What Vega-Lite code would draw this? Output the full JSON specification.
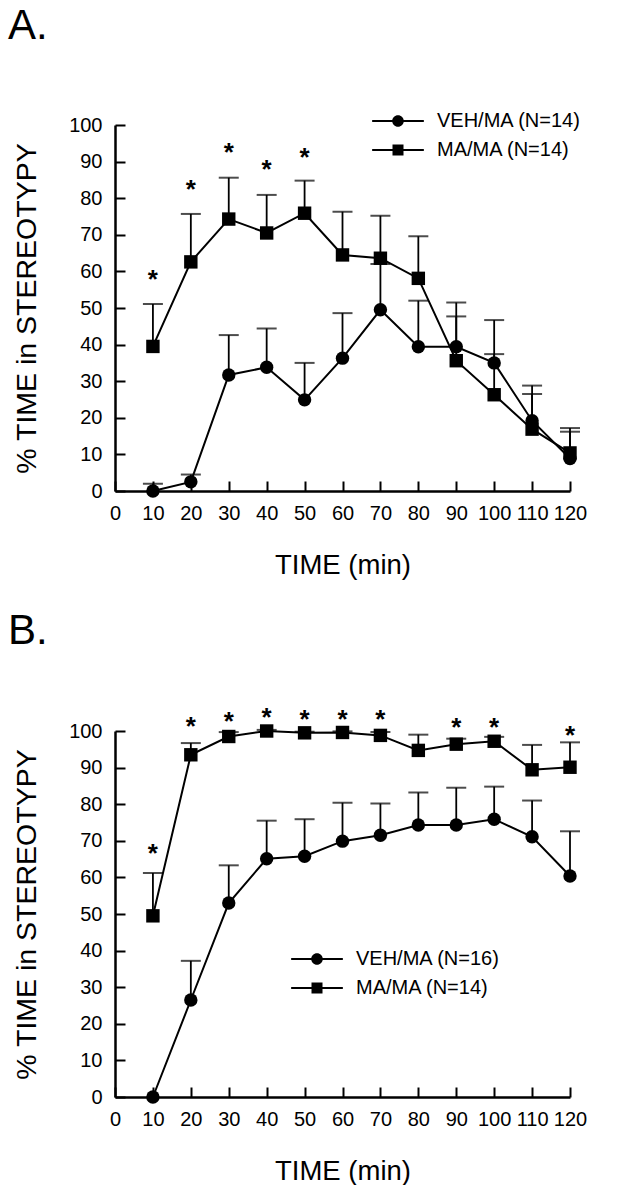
{
  "$schema": "https://vega.github.io/schema/vega-lite/v6.json",
  "padding": {"left": 8, "top": 5, "right": 5, "bottom": 0},
  "background": "white",
  "datasets": {
    "A": [
      {"time": 10, "group": "VEH/MA (N=14)", "mean": 0, "upper": 2},
      {"time": 20, "group": "VEH/MA (N=14)", "mean": 2.5, "upper": 4.5},
      {"time": 30, "group": "VEH/MA (N=14)", "mean": 31.7, "upper": 42.6},
      {"time": 40, "group": "VEH/MA (N=14)", "mean": 33.8, "upper": 44.4},
      {"time": 50, "group": "VEH/MA (N=14)", "mean": 24.9, "upper": 35},
      {"time": 60, "group": "VEH/MA (N=14)", "mean": 36.3, "upper": 48.6},
      {"time": 70, "group": "VEH/MA (N=14)", "mean": 49.5, "upper": 62},
      {"time": 80, "group": "VEH/MA (N=14)", "mean": 39.4, "upper": 52},
      {"time": 90, "group": "VEH/MA (N=14)", "mean": 39.4, "upper": 51.5},
      {"time": 100, "group": "VEH/MA (N=14)", "mean": 35, "upper": 46.7},
      {"time": 110, "group": "VEH/MA (N=14)", "mean": 19.2, "upper": 28.8},
      {"time": 120, "group": "VEH/MA (N=14)", "mean": 8.9, "upper": 17.2},
      {"time": 10, "group": "MA/MA (N=14)", "mean": 39.5, "upper": 51.1},
      {"time": 20, "group": "MA/MA (N=14)", "mean": 62.6, "upper": 75.7},
      {"time": 30, "group": "MA/MA (N=14)", "mean": 74.3, "upper": 85.6},
      {"time": 40, "group": "MA/MA (N=14)", "mean": 70.5, "upper": 80.9},
      {"time": 50, "group": "MA/MA (N=14)", "mean": 75.9, "upper": 84.8},
      {"time": 60, "group": "MA/MA (N=14)", "mean": 64.5, "upper": 76.3},
      {"time": 70, "group": "MA/MA (N=14)", "mean": 63.6, "upper": 75.2},
      {"time": 80, "group": "MA/MA (N=14)", "mean": 58.1, "upper": 69.6},
      {"time": 90, "group": "MA/MA (N=14)", "mean": 35.6, "upper": 47.7},
      {"time": 100, "group": "MA/MA (N=14)", "mean": 26.3, "upper": 37.4},
      {"time": 110, "group": "MA/MA (N=14)", "mean": 16.9, "upper": 26.5},
      {"time": 120, "group": "MA/MA (N=14)", "mean": 10.4, "upper": 16.2}
    ],
    "starsA": [
      {"time": 10, "star": 58.7},
      {"time": 20, "star": 83.4},
      {"time": 30, "star": 93.4},
      {"time": 40, "star": 88.7},
      {"time": 50, "star": 92}
    ],
    "B": [
      {"time": 10, "group": "VEH/MA (N=16)", "mean": 0, "upper": null},
      {"time": 20, "group": "VEH/MA (N=16)", "mean": 26.5, "upper": 37.2},
      {"time": 30, "group": "VEH/MA (N=16)", "mean": 53, "upper": 63.3},
      {"time": 40, "group": "VEH/MA (N=16)", "mean": 65.1, "upper": 75.5},
      {"time": 50, "group": "VEH/MA (N=16)", "mean": 65.8, "upper": 75.9},
      {"time": 60, "group": "VEH/MA (N=16)", "mean": 69.9, "upper": 80.4},
      {"time": 70, "group": "VEH/MA (N=16)", "mean": 71.5, "upper": 80.2},
      {"time": 80, "group": "VEH/MA (N=16)", "mean": 74.3, "upper": 83.2},
      {"time": 90, "group": "VEH/MA (N=16)", "mean": 74.3, "upper": 84.5},
      {"time": 100, "group": "VEH/MA (N=16)", "mean": 75.9, "upper": 84.8},
      {"time": 110, "group": "VEH/MA (N=16)", "mean": 71.1, "upper": 81},
      {"time": 120, "group": "VEH/MA (N=16)", "mean": 60.4, "upper": 72.6},
      {"time": 10, "group": "MA/MA (N=14)", "mean": 49.5, "upper": 61.2},
      {"time": 20, "group": "MA/MA (N=14)", "mean": 93.5, "upper": 96.7},
      {"time": 30, "group": "MA/MA (N=14)", "mean": 98.5, "upper": 99.7},
      {"time": 40, "group": "MA/MA (N=14)", "mean": 100, "upper": 100.3},
      {"time": 50, "group": "MA/MA (N=14)", "mean": 99.5, "upper": 99.8},
      {"time": 60, "group": "MA/MA (N=14)", "mean": 99.6, "upper": 99.9},
      {"time": 70, "group": "MA/MA (N=14)", "mean": 98.8, "upper": 99.7},
      {"time": 80, "group": "MA/MA (N=14)", "mean": 94.7, "upper": 99},
      {"time": 90, "group": "MA/MA (N=14)", "mean": 96.4, "upper": 97.9},
      {"time": 100, "group": "MA/MA (N=14)", "mean": 97.2, "upper": 98.4},
      {"time": 110, "group": "MA/MA (N=14)", "mean": 89.4, "upper": 96.2},
      {"time": 120, "group": "MA/MA (N=14)", "mean": 90.1, "upper": 96.9}
    ],
    "starsB": [
      {"time": 10, "star": 68.4},
      {"time": 20, "star": 103},
      {"time": 30, "star": 104.4},
      {"time": 40, "star": 105.5},
      {"time": 50, "star": 105},
      {"time": 60, "star": 105},
      {"time": 70, "star": 105},
      {"time": 90, "star": 102.7},
      {"time": 100, "star": 102.7},
      {"time": 120, "star": 100.5}
    ]
  },
  "config": {
    "font": "Liberation Sans",
    "view": {"stroke": null},
    "legend": {
      "labelFont": "Liberation Sans",
      "labelFontSize": 20,
      "labelColor": "black",
      "symbolSize": 121,
      "symbolStrokeWidth": 0,
      "padding": 0,
      "rowPadding": 9,
      "labelOffset": 29,
      "orient": "none"
    },
    "title": {
      "anchor": "start",
      "frame": "group",
      "dx": -107,
      "fontSize": 42,
      "fontWeight": "normal",
      "font": "Liberation Sans",
      "color": "black"
    }
  },
  "resolve": {"scale": {"shape": "independent"}, "legend": {"shape": "independent"}},
  "spacing": 30,
  "vconcat": [
    {
      "title": {"text": "A.", "offset": 63},
      "width": 455,
      "height": 366,
      "encoding": {
        "x": {"field": "time", "type": "quantitative", "scale": {"domain": [0, 120], "nice": false},
          "axis": {"values": [0,10,20,30,40,50,60,70,80,90,100,110,120], "title": "TIME (min)",
            "domainColor": "black", "domainWidth": 2.5, "tickColor": "black", "tickWidth": 2, "tickSize": -10,
            "labelColor": "black", "labelFont": "Liberation Sans", "labelFontSize": 20, "labelPadding": 22,
            "labelOverlap": false, "labelFlush": false, "grid": false,
            "titleFont": "Liberation Sans", "titleFontSize": 27.5, "titleFontWeight": "normal", "titleColor": "black", "titlePadding": 28}},
        "y": {"field": "mean", "type": "quantitative", "scale": {"domain": [0, 100], "nice": false},
          "axis": {"values": [0,10,20,30,40,50,60,70,80,90,100], "title": "% TIME in STEREOTYPY",
            "domainColor": "black", "domainWidth": 2.5, "tickColor": "black", "tickWidth": 2, "tickSize": -10,
            "labelColor": "black", "labelFont": "Liberation Sans", "labelFontSize": 20, "labelPadding": 23,
            "labelOverlap": false, "labelFlush": false, "grid": false,
            "titleFont": "Liberation Sans", "titleFontSize": 28.5, "titleFontWeight": "normal", "titleColor": "black", "titlePadding": 27}}
      },
      "resolve": {"scale": {"shape": "independent"}, "legend": {"shape": "independent"}},
      "layer": [
        {
          "data": {"name": "A"},
          "mark": {"type": "rule", "color": "black", "strokeWidth": 1.8},
          "encoding": {"y2": {"field": "upper"}}
        },
        {
          "data": {"name": "A"},
          "mark": {"type": "tick", "orient": "horizontal", "color": "black", "size": 20, "thickness": 2},
          "encoding": {"y": {"field": "upper", "type": "quantitative"}}
        },
        {
          "data": {"name": "A"},
          "mark": {"type": "line", "color": "black", "strokeWidth": 2},
          "encoding": {"detail": {"field": "group"}}
        },
        {
          "data": {"name": "A"},
          "mark": {"type": "point", "filled": true, "color": "black", "opacity": 1, "size": 180},
          "encoding": {
            "shape": {"field": "group", "type": "nominal",
              "scale": {"domain": ["VEH/MA (N=14)", "MA/MA (N=14)"], "range": ["circle", "square"]},
              "legend": null}
          }
        },
        {
          "data": {"name": "A"},
          "transform": [{"filter": "false"}],
          "mark": {"type": "point", "filled": true, "color": "black", "opacity": 1, "size": 121},
          "encoding": {
            "shape": {"field": "group", "type": "nominal",
              "scale": {"domain": ["VEH/MA (N=14)", "MA/MA (N=14)"],
                "range": ["M-4.7,-0.18H-0.98V0.18H-4.7ZM0.98,-0.18H4.7V0.18H0.98ZM1.05,0A1.05,1.05,0,1,1,-1.05,0A1.05,1.05,0,1,1,1.05,0Z",
                          "M-4.7,-0.18H-0.98V0.18H-4.7ZM0.98,-0.18H4.7V0.18H0.98ZM-1,-1H1V1H-1Z"]},
              "legend": {"title": null, "legendX": 273, "legendY": -14, "symbolFillColor": "black"}}
          }
        },
        {
          "data": {"name": "starsA"},
          "mark": {"type": "text", "text": "*", "fontSize": 26, "fontWeight": "bold", "color": "black", "baseline": "alphabetic", "dy": 12},
          "encoding": {"y": {"field": "star", "type": "quantitative"}}
        }
      ]
    },
    {
      "title": {"text": "B.", "offset": 52},
      "width": 455,
      "height": 366,
      "encoding": {
        "x": {"field": "time", "type": "quantitative", "scale": {"domain": [0, 120], "nice": false},
          "axis": {"values": [0,10,20,30,40,50,60,70,80,90,100,110,120], "title": "TIME (min)",
            "domainColor": "black", "domainWidth": 2.5, "tickColor": "black", "tickWidth": 2, "tickSize": -10,
            "labelColor": "black", "labelFont": "Liberation Sans", "labelFontSize": 20, "labelPadding": 22,
            "labelOverlap": false, "labelFlush": false, "grid": false,
            "titleFont": "Liberation Sans", "titleFontSize": 27.5, "titleFontWeight": "normal", "titleColor": "black", "titlePadding": 28}},
        "y": {"field": "mean", "type": "quantitative", "scale": {"domain": [0, 100], "nice": false},
          "axis": {"values": [0,10,20,30,40,50,60,70,80,90,100], "title": "% TIME in STEREOTYPY",
            "domainColor": "black", "domainWidth": 2.5, "tickColor": "black", "tickWidth": 2, "tickSize": -10,
            "labelColor": "black", "labelFont": "Liberation Sans", "labelFontSize": 20, "labelPadding": 23,
            "labelOverlap": false, "labelFlush": false, "grid": false,
            "titleFont": "Liberation Sans", "titleFontSize": 28.5, "titleFontWeight": "normal", "titleColor": "black", "titlePadding": 27}}
      },
      "resolve": {"scale": {"shape": "independent"}, "legend": {"shape": "independent"}},
      "layer": [
        {
          "data": {"name": "B"},
          "mark": {"type": "rule", "color": "black", "strokeWidth": 1.8},
          "encoding": {"y2": {"field": "upper"}}
        },
        {
          "data": {"name": "B"},
          "mark": {"type": "tick", "orient": "horizontal", "color": "black", "size": 20, "thickness": 2},
          "encoding": {"y": {"field": "upper", "type": "quantitative"}}
        },
        {
          "data": {"name": "B"},
          "mark": {"type": "line", "color": "black", "strokeWidth": 2},
          "encoding": {"detail": {"field": "group"}}
        },
        {
          "data": {"name": "B"},
          "mark": {"type": "point", "filled": true, "color": "black", "opacity": 1, "size": 180},
          "encoding": {
            "shape": {"field": "group", "type": "nominal",
              "scale": {"domain": ["VEH/MA (N=16)", "MA/MA (N=14)"], "range": ["circle", "square"]},
              "legend": null}
          }
        },
        {
          "data": {"name": "B"},
          "transform": [{"filter": "false"}],
          "mark": {"type": "point", "filled": true, "color": "black", "opacity": 1, "size": 121},
          "encoding": {
            "shape": {"field": "group", "type": "nominal",
              "scale": {"domain": ["VEH/MA (N=16)", "MA/MA (N=14)"],
                "range": ["M-4.7,-0.18H-0.98V0.18H-4.7ZM0.98,-0.18H4.7V0.18H0.98ZM1.05,0A1.05,1.05,0,1,1,-1.05,0A1.05,1.05,0,1,1,1.05,0Z",
                          "M-4.7,-0.18H-0.98V0.18H-4.7ZM0.98,-0.18H4.7V0.18H0.98ZM-1,-1H1V1H-1Z"]},
              "legend": {"title": null, "legendX": 192, "legendY": 218, "symbolFillColor": "black"}}
          }
        },
        {
          "data": {"name": "starsB"},
          "mark": {"type": "text", "text": "*", "fontSize": 26, "fontWeight": "bold", "color": "black", "baseline": "alphabetic", "dy": 15},
          "encoding": {"y": {"field": "star", "type": "quantitative"}}
        }
      ]
    }
  ]
}
